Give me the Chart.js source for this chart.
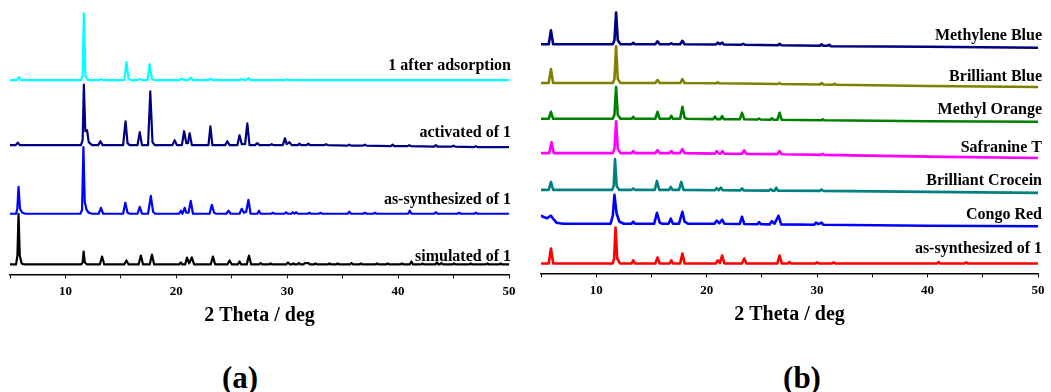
<!DOCTYPE html>
<html>
<head>
<meta charset="utf-8">
<script src="https://cdn.jsdelivr.net/npm/chart.js@4.4.1/dist/chart.umd.min.js"></script>
<style>
  html, body { margin: 0; padding: 0; background: #fff; }
  #wrap { position: relative; width: 1051px; height: 392px; overflow: hidden; background: #fff; }
  .panel { position: absolute; top: 0; }
  #pa { left: 0; }
  #pb { left: 525px; }
  .tag { position: absolute; top: 360px; line-height: 40px; transform: translateX(-50%);
         font: bold 31px "Liberation Serif", "Times New Roman", serif; color: #000; }
</style>
</head>
<body>
<div id="wrap">
  <div class="panel" id="pa"><canvas id="ca" width="525" height="330"></canvas></div>
  <div class="panel" id="pb"><canvas id="cb" width="526" height="330"></canvas></div>
  <div class="tag" style="left:240px">(a)</div>
  <div class="tag" style="left:802px">(b)</div>
</div>
<script>
// ---------- Panel (a): PXRD patterns, [2θ (deg), intensity (a.u.)] ----------
const afterAdsorption = [
  [5.0,0],[5.6,0],[5.8,3],[6.0,0],
  [11.4,0],[11.55,4],[11.66,67],[11.8,4],[12.0,0],
  [13.0,0],[13.2,1],[13.4,0],
  [15.3,0],[15.5,18],[15.7,1],[15.9,0],
  [16.5,0],[16.7,1],[16.9,0],
  [17.4,0],[17.6,16],[17.8,1],[18.0,0],
  [20.3,0],[20.5,1.5],[20.7,0],[21.1,0],[21.3,2.5],[21.5,0],
  [22.9,0],[23.1,1.5],[23.3,0],
  [25.7,0],[25.9,1],[26.1,0],[26.3,0],[26.5,2],[26.7,0],
  [29.8,0],[30.0,0.7],[30.2,0],
  [50.0,0]
];
const activated = [
  [5.0,0],[5.5,0],[5.7,2.5],[5.9,0],
  [11.4,0],[11.55,5],[11.66,61],[11.79,14],[11.95,15],[12.1,3],[12.4,0],
  [12.95,0],[13.15,4],[13.35,0],
  [15.2,0],[15.42,24],[15.6,2],[15.8,0],
  [16.5,0],[16.7,13],[16.9,0],
  [17.45,0],[17.65,54],[17.85,3],[18.05,0],
  [19.65,0],[19.85,5],[20.05,0],[20.5,0],[20.7,14],[20.9,2],[21.05,2],[21.2,12],[21.4,0],
  [22.9,0],[23.07,19],[23.25,0],
  [24.4,0],[24.6,4],[24.8,0],
  [25.5,0],[25.7,10],[25.9,1],[26.2,1],[26.4,22],[26.6,0],
  [27.1,0],[27.3,2],[27.5,0],
  [28.45,0],[28.6,1],[28.75,0],
  [29.6,0],[29.8,7],[29.95,1],[30.2,3],[30.4,0],
  [30.95,0],[31.1,1.5],[31.25,0],
  [31.75,0],[31.9,1.5],[32.05,0],
  [33.35,0],[33.5,1],[33.65,0],
  [35.45,-0.5],[35.6,0.5],[35.75,-0.5],
  [36.85,-0.5],[37.0,0.5],[37.15,-0.5],
  [39.35,-1],[39.5,0.5],[39.65,-1],
  [40.85,-1],[41.0,0],[41.15,-1],
  [43.25,-1.5],[43.4,0],[43.55,-1.5],
  [44.85,-1.5],[45.0,-0.5],[45.15,-1.5],
  [46.85,-2],[47.0,-1],[47.15,-2],
  [50.0,-2]
];
const asSynthesizedA = [
  [5.0,0],[5.55,0],[5.66,5],[5.77,27],[5.9,5],[6.1,1],[6.4,0],
  [11.35,0],[11.5,4],[11.62,67],[11.74,12],[11.9,4],[12.1,1],[12.4,0],
  [13.0,0],[13.2,6],[13.4,0],
  [15.2,0],[15.4,11],[15.6,1],[15.8,0],
  [16.5,0],[16.7,7],[16.9,0],
  [17.45,0],[17.7,18],[17.9,2],[18.1,0],
  [20.25,0],[20.4,3],[20.55,0],[20.6,0],[20.75,6],[20.9,1],[21.1,1],[21.3,13],[21.5,0],
  [23.0,0],[23.2,9],[23.4,1],[23.6,0],
  [24.5,0],[24.7,3],[24.9,0],
  [25.7,0],[25.9,5],[26.1,1],[26.3,2],[26.5,14],[26.7,0],
  [27.3,0],[27.45,3],[27.6,0],
  [28.55,0],[28.7,1],[28.85,0],
  [29.75,0],[29.9,1.5],[30.05,0],
  [30.35,0],[30.5,1.5],[30.65,0],[30.8,1.5],[30.95,0],
  [31.85,0],[32.0,1],[32.15,0],
  [32.85,0],[33.0,1],[33.15,0],
  [35.45,0],[35.6,2],[35.75,0],
  [36.85,0],[37.0,1],[37.15,0],
  [37.75,0],[37.9,1],[38.05,0],
  [40.9,0],[41.05,3],[41.2,0],
  [43.25,0],[43.4,1.5],[43.55,0],
  [45.35,0],[45.5,1],[45.65,0],
  [46.85,0],[47.0,1],[47.15,0],
  [50.0,0]
];
const simulated = [
  [5.0,0],[5.55,0],[5.67,9],[5.77,51],[5.88,9],[6.05,1],[6.3,0],
  [11.4,0],[11.55,2],[11.64,13],[11.75,2],[11.95,0],
  [13.1,0],[13.3,8],[13.5,0],
  [15.3,0],[15.5,4],[15.7,0],
  [16.6,0],[16.8,9],[17.0,0],
  [17.6,0],[17.8,10],[18.0,0],
  [20.25,0],[20.4,2],[20.55,0],[20.8,0],[20.96,7],[21.15,1],[21.4,7],[21.6,0],
  [23.1,0],[23.3,8],[23.5,0],
  [24.6,0],[24.8,4],[25.0,0],
  [25.55,0],[25.7,3],[25.85,0],
  [26.35,0],[26.55,9],[26.75,0],
  [27.45,0],[27.6,1.5],[27.75,0],
  [28.35,0],[28.5,1],[28.65,0],
  [29.9,0],[30.07,2],[30.25,0],[30.4,0],[30.55,1],[30.7,0],
  [30.9,0],[31.05,1.5],[31.2,0],[31.45,0],[31.6,1.5],[31.75,1.2],[31.9,1.5],[32.05,0],
  [32.4,0],[32.55,1],[32.7,0],
  [33.65,0],[33.8,1],[33.95,0],
  [34.4,0],[34.55,1],[34.7,0],
  [35.65,0],[35.8,1.5],[35.95,0],
  [36.5,0],[36.65,1],[36.8,0],
  [37.95,0],[38.1,1],[38.25,0],
  [38.9,0],[39.05,1],[39.2,0],
  [40.2,0],[40.35,1],[40.5,0],
  [41.05,0],[41.2,3],[41.35,0],
  [42.05,0],[42.2,1],[42.35,0],
  [43.35,0],[43.5,2],[43.65,0],[43.75,0],[43.9,1.5],[44.05,0],
  [44.9,0],[45.05,1],[45.2,0],
  [46.4,0],[46.55,1],[46.7,0],
  [47.9,0],[48.05,1],[48.2,0],
  [49.1,0],[49.25,1],[49.4,0],
  [50.0,0]
];

// ---------- Panel (b): PXRD after dye adsorption ----------
const methyleneBlue = [
  [5.0,0],[5.7,0],[5.9,14],[6.1,0],
  [11.5,0],[11.65,4],[11.8,32],[11.95,4],[12.2,0],
  [13.2,0],[13.35,1.5],[13.5,0],
  [15.35,0],[15.55,3],[15.75,0],
  [16.65,0],[16.8,1],[16.95,0],
  [17.6,0],[17.8,3.5],[18.0,0],
  [20.85,-0.3],[21.0,1.7],[21.2,0],[21.4,1.7],[21.55,-0.3],
  [23.15,-0.5],[23.3,0.5],[23.45,-0.5],
  [26.45,-1],[26.6,0.5],[26.75,-1],
  [30.25,-1.5],[30.4,0],[30.55,-1.5],[30.95,-1.5],[31.1,-0.5],[31.25,-2],
  [40.0,-2.5],[50.0,-3.5]
];
const brilliantBlue = [
  [5.0,0],[5.7,0],[5.9,14],[6.1,0],
  [11.5,0],[11.65,4],[11.8,37],[11.95,4],[12.2,0],
  [15.35,0],[15.55,3],[15.75,0],
  [17.6,0],[17.8,4],[18.0,0],
  [20.85,-0.3],[21.0,0.8],[21.15,-0.3],
  [26.45,-1],[26.6,0],[26.75,-1],
  [30.25,-1.5],[30.4,0],[30.55,-1.5],
  [31.45,-1.7],[31.6,-0.7],[31.75,-1.8],
  [40.0,-3],[50.0,-4]
];
const methylOrange = [
  [5.0,0],[5.7,0],[5.9,7],[6.1,0],
  [11.5,0],[11.65,4],[11.8,32],[11.95,4],[12.2,0],
  [13.2,0],[13.35,2],[13.5,0],
  [15.35,0],[15.55,7],[15.75,0],
  [16.65,0],[16.8,3],[16.95,0],
  [17.6,0],[17.8,12],[18.0,1],[18.2,0],
  [20.6,-0.3],[20.75,2.2],[20.9,-0.3],[21.25,-0.3],[21.4,2.7],[21.55,-0.3],
  [23.0,-0.5],[23.2,6],[23.4,-0.5],
  [24.6,-0.7],[24.75,0.3],[24.9,-0.7],
  [25.75,-1],[25.9,0.5],[26.05,-1],[26.4,-1],[26.6,6],[26.8,-1],
  [30.35,-1.5],[30.5,-0.5],[30.65,-1.5],
  [40.0,-2.5],[50.0,-3]
];
const safranineT = [
  [5.0,0],[5.75,0],[5.95,11],[6.15,0],
  [11.5,0],[11.65,4],[11.8,32],[11.95,4],[12.2,0],
  [13.2,0],[13.35,2],[13.5,0],
  [15.35,0],[15.55,3],[15.75,0],
  [16.65,0],[16.8,2],[16.95,0],
  [17.6,0],[17.8,4],[18.0,0],
  [20.75,-0.5],[20.9,2],[21.1,-0.3],[21.25,-0.5],[21.45,2],[21.6,-0.5],
  [23.2,-0.7],[23.4,2.8],[23.6,-0.8],
  [26.4,-1],[26.6,2],[26.8,-1.2],
  [30.35,-1.8],[30.5,-0.8],[30.65,-1.8],
  [40.0,-3.5],[50.0,-5]
];
const brilliantCrocein = [
  [5.0,0],[5.7,0],[5.9,8],[6.1,0],
  [11.45,0],[11.58,4],[11.7,31],[11.85,4],[12.1,0],
  [13.2,0],[13.35,1.5],[13.5,0],
  [15.3,0],[15.5,9],[15.7,0],
  [16.6,0],[16.75,3],[16.9,0],
  [17.5,0],[17.7,8],[17.9,0],
  [20.75,-0.3],[20.9,1.7],[21.1,-0.3],[21.3,2.2],[21.45,-0.3],
  [23.05,-0.5],[23.2,1.5],[23.35,-0.5],
  [25.65,-0.7],[25.8,0.8],[25.95,-0.7],[26.15,-0.7],[26.3,2.3],[26.45,-0.7],
  [30.25,-1],[30.4,0.5],[30.55,-1],
  [40.0,-2],[50.0,-3]
];
const congoRed = [
  [5.0,8],[5.3,6.5],[5.55,5.5],[5.75,7],[5.9,8],[6.1,5],[6.4,1],[7.0,0],
  [11.3,0],[11.5,8],[11.65,29],[11.85,10],[12.1,2],[12.5,0],
  [13.2,0],[13.35,2],[13.5,0],
  [15.25,0],[15.5,11],[15.75,1],[16.0,0],
  [16.55,0],[16.75,5],[16.95,0],
  [17.5,0],[17.8,12],[18.0,2],[18.3,0],
  [20.7,0],[20.9,3],[21.15,0.5],[21.4,4],[21.6,0],
  [23.0,-0.3],[23.2,7],[23.4,-0.3],
  [24.6,-0.5],[24.75,1.5],[24.9,-0.5],
  [25.7,-0.7],[25.9,2.5],[26.15,0],[26.5,8],[26.75,-0.7],
  [29.75,-1],[29.9,1],[30.1,-0.5],[30.4,1],[30.55,-1],
  [40.0,-2],[50.0,-2.5]
];
const asSynthesizedB = [
  [5.0,0],[5.7,0],[5.9,15],[6.1,0],
  [11.5,0],[11.62,5],[11.75,36],[11.9,5],[12.15,0],
  [13.2,0],[13.35,3],[13.5,0],
  [15.35,0],[15.55,6],[15.75,0],
  [16.65,0],[16.8,3],[16.95,0],
  [17.6,0],[17.8,10],[18.0,0],
  [20.85,0],[21.0,3],[21.2,0.5],[21.4,8],[21.6,0],
  [23.2,0],[23.4,5],[23.6,0],
  [26.4,0],[26.6,8],[26.8,0],
  [27.35,0],[27.5,1.5],[27.65,0],
  [29.85,0],[30.0,1],[30.15,0],
  [31.35,0],[31.5,1],[31.65,0],
  [40.85,0],[41.0,1.5],[41.15,0],
  [43.35,0],[43.5,1],[43.65,0],
  [50.0,0]
];

// Trace names, top to bottom
const namesA = ['1 after adsorption', 'activated of 1', 'as-synthesized of 1', 'simulated of 1'];
const namesB = ['Methylene Blue', 'Brilliant Blue', 'Methyl Orange', 'Safranine T',
                'Brilliant Crocein', 'Congo Red', 'as-synthesized of 1'];

// Axis ticks along 2θ
const tickStep = 5;
const labelledEvery = 10;

// ---------- drawing ----------
const FONT = '"Liberation Serif", "Times New Roman", Times, serif';
Chart.defaults.font.family = FONT;
Chart.defaults.color = '#000';

const traceLabels = {
  id: 'traceLabels',
  afterDatasetsDraw(chart, args, opts) {
    const { ctx } = chart;
    const x = chart.scales.x, y = chart.scales.y;
    ctx.save();
    ctx.font = 'bold 16px ' + FONT;
    ctx.fillStyle = '#000';
    ctx.textAlign = 'right';
    ctx.textBaseline = 'alphabetic';
    opts.names.forEach((n, i) => {
      ctx.fillText(n, x.right + opts.dx, y.getPixelForValue(opts.shifts[i]) - opts.lifts[i]);
    });
    ctx.restore();
  }
};

function buildPanel(canvasId, series, names, colors, view) {
  const datasets = series.map((pts, i) => ({
    label: names[i],
    data: pts.map(p => ({ x: p[0], y: p[1] + view.shifts[i] })),
    borderColor: colors[i],
    backgroundColor: colors[i],
    borderWidth: view.lineWidth,
    borderJoinStyle: 'round',
    borderCapStyle: 'round',
    pointRadius: 0,
    tension: 0,
    fill: false
  }));
  return new Chart(document.getElementById(canvasId), {
    type: 'line',
    data: { datasets },
    options: {
      responsive: false,
      animation: false,
      events: [],
      layout: { padding: view.padding },
      scales: {
        x: {
          type: 'linear', min: 5, max: 50,
          border: { display: true, color: '#000', width: 1.5 },
          grid: { display: true, drawOnChartArea: false, drawTicks: true, tickLength: 4, color: '#000', lineWidth: 1 },
          ticks: {
            stepSize: tickStep, autoSkip: false, maxRotation: 0, padding: 5,
            font: { size: 13, weight: 'bold' }, color: '#000',
            callback: v => (v % labelledEvery === 0 ? String(v) : '')
          },
          title: {
            display: true, text: '2 Theta / deg', color: '#000',
            font: { size: 20, weight: 'bold' }, padding: { top: 0, bottom: 0 }
          }
        },
        y: { display: false, min: 0, max: view.yMax }
      },
      plugins: {
        legend: { display: false },
        tooltip: { enabled: false },
        traceLabels: { names, shifts: view.shifts, lifts: view.lifts, dx: view.dx }
      }
    },
    plugins: [traceLabels]
  });
}

buildPanel('ca',
  [afterAdsorption, activated, asSynthesizedA, simulated],
  namesA,
  ['#00ffff', '#000080', '#0000ff', '#000000'],
  { shifts: [195.5, 130, 61, 10], lifts: [10.5, 8, 10, 3.5], yMax: 276, dx: 2, lineWidth: 2.2,
    padding: { left: 10, right: 16, top: 0, bottom: 2 } });

buildPanel('cb',
  [methyleneBlue, brilliantBlue, methylOrange, safranineT, brilliantCrocein, congoRed, asSynthesizedB],
  namesB,
  ['#000080', '#808000', '#008000', '#ff00ff', '#008080', '#0000ff', '#ff0000'],
  { shifts: [230.5, 191.5, 155.5, 121, 84, 50, 10], lifts: [4.5, 2.5, 4.5, 1.5, 4.5, 4.5, 10], yMax: 275, dx: 4, lineWidth: 2.6,
    padding: { left: 16, right: 13, top: 0, bottom: 3 } });
</script>
</body>
</html>
